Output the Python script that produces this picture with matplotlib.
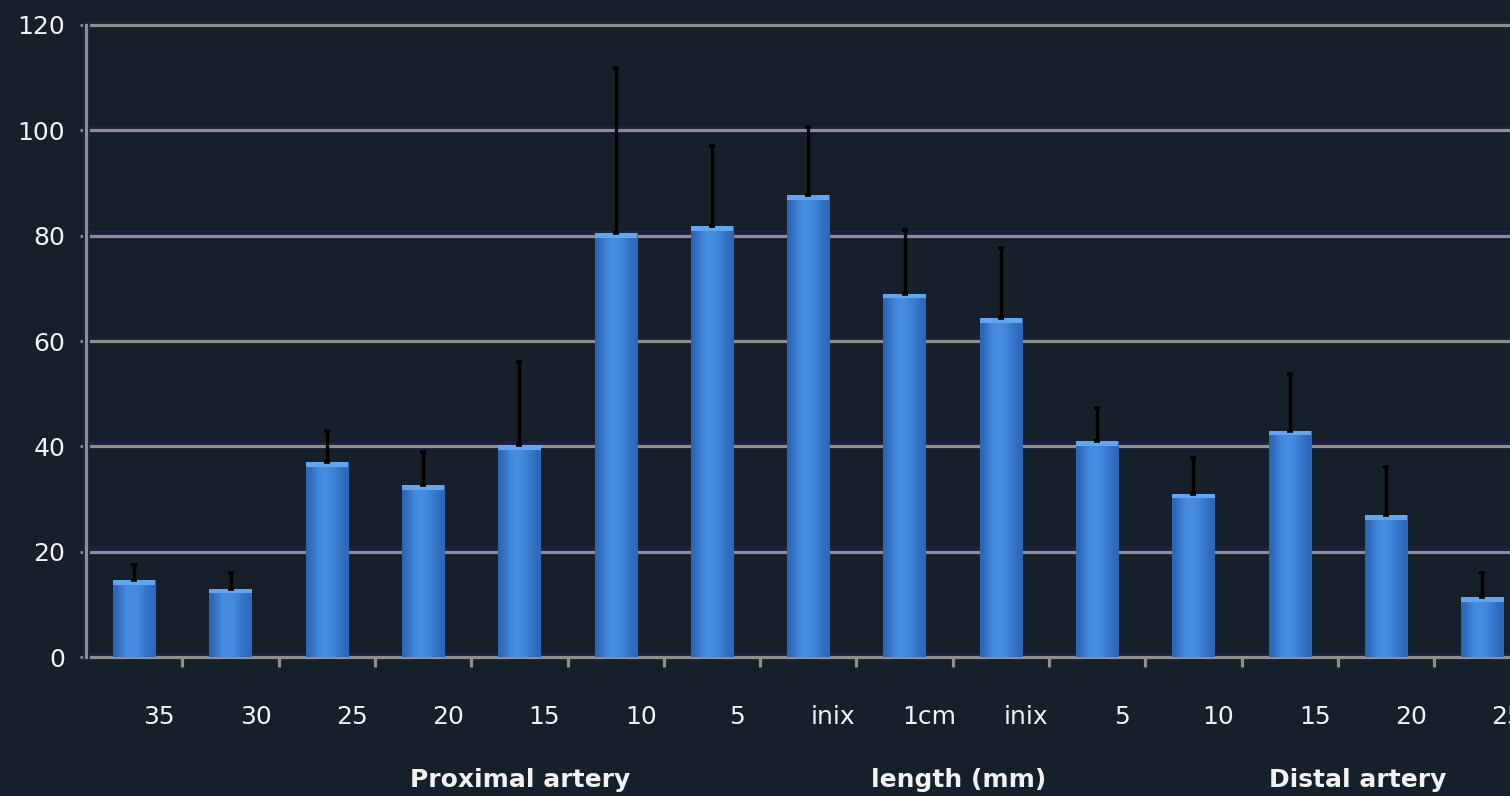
import numpy as np
import matplotlib
matplotlib.use("Agg")
import matplotlib.pyplot as plt
import matplotlib.patheffects as pe
from matplotlib.transforms import blended_transform_factory

# ---- data ----
tick_labels = ["35", "30", "25", "20", "15", "10", "5", "inix", "1cm", "inix",
               "5", "10", "15", "20", "25"]
values = [14.6, 13.0, 37.0, 32.7, 40.2, 80.5, 81.8, 87.7, 69.0, 64.4,
          41.0, 31.0, 43.0, 27.0, 11.4]
err_upper = [2.9, 3.0, 6.0, 6.3, 15.8, 31.3, 15.2, 12.9, 12.0, 13.2,
             6.3, 6.8, 10.7, 9.0, 4.6]
group_labels = ["Proximal artery", "length (mm)", "Distal artery"]
group_centers = [4.51, 9.06, 13.21]
yticks = [0, 20, 40, 60, 80, 100, 120]

BG = "#15202a"
GRID = "#8f8f8c"
TXT = "#f2f2f2"
SHADOW = "#1d2142"

fig = plt.figure(figsize=(15.1, 7.96), dpi=100, facecolor=BG)
ax = fig.add_axes([0.057, 0.1746, 0.9566, 0.794])
ax.set_facecolor(BG)

n = len(values)
x = np.arange(n) + 0.5
ax.set_xlim(0, n)
ax.set_ylim(0, 120)

# gridlines with a dark navy shadow
for yv in yticks:
    ax.axhline(yv, color=GRID, lw=2.2, zorder=1, clip_on=False,
               path_effects=[pe.SimpleLineShadow(offset=(0, 2.5), shadow_color=SHADOW,
                                                 alpha=1.0, rho=1.0),
                             pe.withStroke(linewidth=4.5, foreground=SHADOW),
                             pe.Normal()])

# bars with horizontal gradient
bars = ax.bar(x, values, width=0.44, color="#3a7fd6", zorder=3)
grad = np.array([[0.0, 0.5, 0.85, 1.0, 0.85, 0.6, 0.3, 0.05]])
cmap = matplotlib.colors.LinearSegmentedColormap.from_list("b", ["#2c64b8", "#4890e4"])
for b, v in zip(bars, values):
    x0, w = b.get_x(), b.get_width()
    im = ax.imshow(grad, extent=[x0, x0 + w, 0, v], aspect="auto", cmap=cmap,
                   zorder=3.5, interpolation="bicubic")
    im.set_clip_path(b)
    # light cap at top
    ax.bar(x0 + w / 2, 0.9, width=w, bottom=v - 0.9, color="#62a6f0", zorder=4)

# error bars (upper only)
ax.errorbar(x, values, yerr=[np.zeros(n), err_upper], fmt="none", ecolor="black",
            elinewidth=2.4, capsize=2.5, capthick=2.6, zorder=5)

# spines
for s in ["top", "right", "bottom"]:
    ax.spines[s].set_visible(False)
ax.spines["left"].set_color(GRID)
ax.spines["left"].set_linewidth(2.2)
ax.spines["left"].set_path_effects([pe.withStroke(linewidth=5, foreground=SHADOW), pe.Normal()])

# ticks
ax.set_yticks(yticks)
ax.set_yticklabels([str(v) for v in yticks])
ax.tick_params(axis="y", colors=GRID, labelcolor=TXT, length=4, width=2, pad=11,
               labelsize=18)
ax.set_xticks(np.arange(1, n + 1))
ax.set_xticklabels([])
ax.tick_params(axis="x", colors=GRID, length=7, width=2.3, direction="out")

# category labels, offset to the right of the bars
trans = blended_transform_factory(ax.transData, ax.transAxes)
for xi, lab in zip(x, tick_labels):
    ax.text(xi + 0.26, -0.095, lab, transform=trans, ha="center", va="center",
            color=TXT, fontsize=18, clip_on=False)

for gc, gl in zip(group_centers, group_labels):
    ax.text(gc, -0.195, gl, transform=trans, ha="center", va="center",
            color=TXT, fontsize=18, fontweight="bold", clip_on=False)

fig.savefig("out.png", dpi=100, facecolor=BG)
